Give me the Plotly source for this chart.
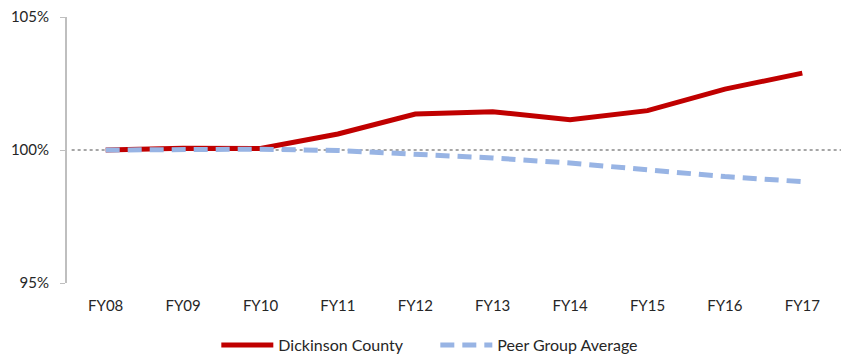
import plotly.graph_objects as go

# Fiscal years on the category axis
years = ["FY08", "FY09", "FY10", "FY11", "FY12", "FY13", "FY14", "FY15", "FY16", "FY17"]

# Values indexed to FY08 = 100%
dickinson = [100.0, 100.07, 100.06, 100.6, 101.35, 101.44, 101.14, 101.48, 102.29, 102.89]
peer_avg = [100.0, 100.03, 100.03, 99.98, 99.85, 99.70, 99.51, 99.25, 99.0, 98.81]

y_ticks = [95, 100, 105]
y_tick_text = ["95%", "100%", "105%"]

x_idx = list(range(len(years)))

fig = go.Figure()

fig.add_trace(go.Scatter(
    x=x_idx, y=dickinson, mode="lines", name="Dickinson County",
    line=dict(color="#C00000", width=5),
))
fig.add_trace(go.Scatter(
    x=x_idx, y=peer_avg, mode="lines", name="Peer Group Average",
    line=dict(color="#98B4E4", width=5, dash="14px,8px"),
))

# dotted 100% baseline
fig.add_shape(
    type="line", xref="paper", yref="y", x0=0.006, x1=1, y0=100, y1=100,
    line=dict(color="#A6A6A6", width=2, dash="dot"), layer="below",
)

fig.update_layout(
    width=845, height=355,
    margin=dict(l=67, r=4, t=17, b=72, autoexpand=False),
    paper_bgcolor="white", plot_bgcolor="white",
    font=dict(family="Lato, 'Open Sans', sans-serif", color="#262626", size=15),
    showlegend=True,
    legend=dict(
        orientation="h", xref="container", yref="container",
        x=0.256, xanchor="left", y=10 / 355, yanchor="middle",
        font=dict(size=16), itemwidth=52,
        entrywidth=152, entrywidthmode="pixels",
    ),
    xaxis=dict(
        range=[-0.5, len(years) - 0.5],
        tickmode="array", tickvals=x_idx, ticktext=years,
        showgrid=False, zeroline=False, showline=False, ticks="",
        tickfont=dict(size=15), ticklabelstandoff=12,
    ),
    yaxis=dict(
        range=[95, 105],
        tickmode="array", tickvals=y_ticks, ticktext=y_tick_text,
        showgrid=False, zeroline=False,
        showline=True, linecolor="#BFBFBF", linewidth=2,
        ticks="outside", ticklen=5, tickcolor="#BFBFBF", tickwidth=1,
        tickfont=dict(size=15), ticklabelstandoff=8,
    ),
)

fig.write_html("out.html")
